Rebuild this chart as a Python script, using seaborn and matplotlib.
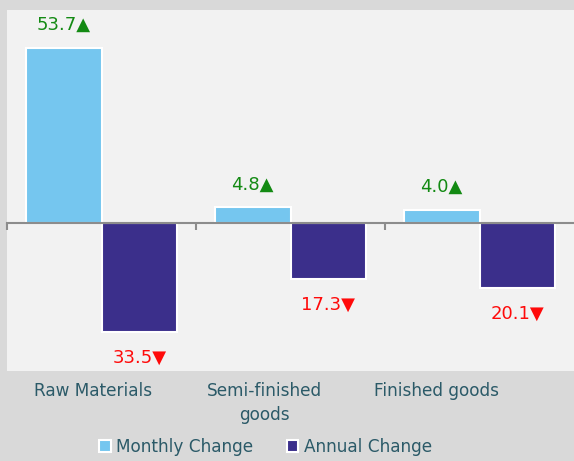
import numpy as np
import pandas as pd
import matplotlib
matplotlib.use("Agg")
import matplotlib.pyplot as plt
import seaborn as sns

categories = ["Raw Materials", "Semi-finished\ngoods", "Finished goods"]
series = ["Monthly Change", "Annual Change"]
monthly = [53.7, 4.8, 4.0]
annual = [-33.5, -17.3, -20.1]

df = pd.DataFrame({
    "cat": categories * 2,
    "series": [series[0]] * 3 + [series[1]] * 3,
    "val": monthly + annual,
})

sns.set_style("white")
plt.rcParams["font.family"] = ["DejaVu Sans"]

txtcol = "#2b5a68"
pal = {"Monthly Change": "#75c6ef", "Annual Change": "#3b2f8b"}

fig = plt.figure(figsize=(5.74, 4.61), dpi=100, facecolor="#d9d9d9")
ax = fig.add_axes([7/574, 1-371/461, 1-7/574, (371-10)/461])
ax.set_facecolor("#f2f2f2")

sns.barplot(data=df, x="cat", y="val", hue="series", palette=pal, width=0.8,
            edgecolor="white", linewidth=1.5, saturation=1, ax=ax)

ymin, ymax = -45.4, 65.3
ax.set_ylim(ymin, ymax)
ax.set_xlim(-0.5, 2.5)

for c in ax.containers:
    for bar in c:
        v = bar.get_height()
        x = bar.get_x() + bar.get_width()/2
        if v >= 0:
            ax.annotate(f"{abs(v):.1f}\u25B2", (x, v), xytext=(0, 16.5), textcoords="offset points",
                        ha="center", va="center", color="#138a13", fontsize=13)
        else:
            ax.annotate(f"{abs(v):.1f}\u25BC", (x, v), xytext=(0, -18.5), textcoords="offset points",
                        ha="center", va="center", color="#ff0a0a", fontsize=13)

handles, labels = ax.get_legend_handles_labels()
ax.get_legend().remove()
fig.legend(handles, labels, loc="lower center", bbox_to_anchor=(0.462, -0.022), ncol=2, frameon=False,
           handlelength=0.7, handleheight=0.7, handletextpad=0.3, columnspacing=2.0,
           fontsize=12.2, labelcolor=txtcol)

# zero line with category dividers
sec = ax.secondary_xaxis((0 - ymin)/(ymax - ymin))
sec.set_xticks([-0.5, 0.5, 1.5])
sec.tick_params(axis="x", direction="out", length=5, width=1.5, color="#8c8c8c", labelbottom=False)
sec.spines["bottom"].set_color("#8c8c8c")
sec.spines["bottom"].set_linewidth(1.5)
sec.set_zorder(5)

for s in ax.spines.values():
    s.set_visible(False)
ax.set_yticks([])
ax.set_xlabel("")
ax.set_ylabel("")
# category labels sit a bit left of the bar groups in the original
ax.set_xticks(np.arange(3) * 0.91 - 0.047, categories)
ax.tick_params(axis="x", length=0, pad=8, labelsize=12.2, labelcolor=txtcol)
for t in ax.get_xticklabels():
    t.set_linespacing(1.45)

fig.savefig("out.png", dpi=100, facecolor=fig.get_facecolor())
